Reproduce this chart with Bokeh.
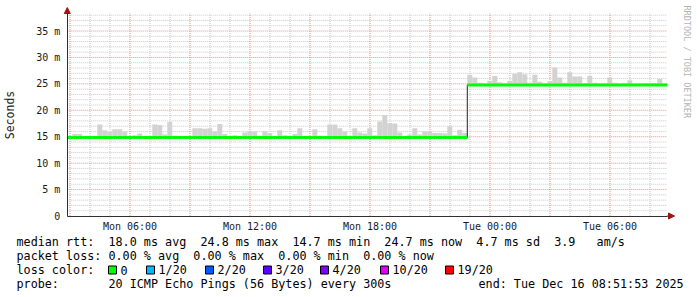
import math
from bokeh.plotting import figure
from bokeh.models import FixedTicker, Range1d, Arrow, NormalHead, ColumnDataSource
from bokeh.core.properties import value
from bokeh.embed import file_html
from bokeh.resources import INLINE

# ---------------- data ----------------
# time axis in hours since Mon 00:00
start_h = 2 + 51 / 60 + 53 / 3600      # Mon 02:51:53
span_h = 30.0                          # ends Tue 08:51:53
bin_h = 0.25                           # 15-minute bins

# smoke top (upper edge of ping spread), ms
smoke_top = [
    15.2, 15.5, 15.5, 15.0, 15.0, 15.1, 17.3, 16.2, 15.9, 16.4,
    16.4, 16.0, 15.0, 15.3, 15.6, 15.0, 15.1, 17.3, 17.2, 15.4,
    17.8, 15.2, 15.0, 15.0, 15.1, 16.6, 16.6, 16.5, 16.6, 16.0,
    17.4, 15.5, 15.0, 15.3, 15.1, 15.8, 16.0, 16.0, 15.2, 16.0,
    15.7, 15.1, 16.2, 15.3, 15.0, 15.5, 16.6, 15.1, 15.0, 16.4,
    15.2, 15.0, 17.3, 17.3, 16.6, 16.0, 15.2, 16.6, 15.8, 15.6,
    16.6, 15.3, 17.9, 19.1, 17.6, 17.5, 15.8, 15.1, 15.4, 16.6,
    15.4, 16.0, 16.0, 15.7, 15.7, 15.6, 17.0, 15.3, 16.3, 15.7,
    26.7, 26.2, 25.2, 25.0, 25.6, 26.5, 25.3, 25.1, 25.6, 26.9,
    27.2, 26.8, 25.2, 26.7, 25.4, 25.1, 25.5, 28.1, 26.2, 25.2,
    27.2, 26.4, 26.4, 25.1, 26.5, 25.2, 25.0, 25.1, 26.2, 25.2,
    25.0, 25.1, 25.7, 25.0, 25.0, 25.1, 25.0, 25.1, 25.9, 25.1,
]

# median rtt, ms
median_rtt = [14.85] * 80 + [24.8] * 40

x_tick_hours = [6, 12, 18, 24, 30]
x_tick_labels = ["Mon 06:00", "Mon 12:00", "Mon 18:00", "Tue 00:00", "Tue 06:00"]
y_tick_vals = [0, 5, 10, 15, 20, 25, 30, 35]
y_tick_labels = ["0", "5 m", "10 m", "15 m", "20 m", "25 m", "30 m", "35 m"]
x_major_grid = [3, 6, 9, 12, 15, 18, 21, 24, 27, 30]
x_minor_grid = [4, 5, 7, 8, 10, 11, 13, 14, 16, 17, 19, 20, 22, 23, 25, 26, 28, 29, 31, 32]
y_major_grid = [5, 10, 15, 20, 25, 30, 35]
y_minor_grid = [1, 2, 3, 4, 6, 7, 8, 9, 11, 12, 13, 14, 16, 17, 18, 19, 21, 22, 23, 24,
                26, 27, 28, 29, 31, 32, 33, 34, 36, 37, 38]

loss_labels = ["0", "1/20", "2/20", "3/20", "4/20", "10/20", "19/20"]
loss_colors = ["#00ff00", "#00b8ff", "#0059ff", "#5e00ff", "#7e00ff", "#dd00ff", "#ff0000"]

stat_rows = [
    "median rtt:  18.0 ms avg  24.8 ms max  14.7 ms min  24.7 ms now  4.7 ms sd  3.9   am/s",
    "packet loss: 0.00 % avg  0.00 % max  0.00 % min  0.00 % now",
    "loss color:",
    "probe:       20 ICMP Echo Pings (56 Bytes) every 300s",
]
end_text = "end: Tue Dec 16 08:51:53 2025"
watermark = "RRDTOOL / TOBI OETIKER"

# ---------------- layout helpers ----------------
W, H = 697, 297
L, B = 67.0, 215.5           # pixel position of (start, 0)
PXH = 20.0                   # pixels per hour
PXM = 185.0 / 35.0           # pixels per ms
x0 = start_h
x1 = start_h + span_h
# nudge so that whole hours fall on pixel centres (crisp dotted grid)
L = L + (0.5 - ((L + (3 - x0) * PXH) % 1.0))

def px_x(X):
    return x0 + (X - L) / PXH

def px_y(Y):
    return (B - Y) / PXM

def keep_spaces(s):
    return s.replace(" ", "\u00a0")

ytop = px_y(13)
MONO = "DejaVu Sans Mono"

p = figure(width=W, height=H, output_backend="svg", toolbar_location=None,
           x_range=Range1d(px_x(0), px_x(W)), y_range=Range1d(px_y(H), px_y(0)),
           min_border=0)
p.background_fill_color = "white"
p.border_fill_color = "white"
p.outline_line_color = None
p.grid.visible = False

# grid (drawn from the tick lists, limited to the graph area)
minor_c, major_c = "#c8c8c8", "#f08a8a"
gx = [h for h in x_minor_grid if x0 <= h <= x1]
p.segment(x0=gx, x1=gx, y0=[0] * len(gx), y1=[ytop] * len(gx),
          line_color=minor_c, line_dash="1 1", line_width=1)
gy = y_minor_grid
p.segment(x0=[x0] * len(gy), x1=[x1] * len(gy), y0=gy, y1=gy,
          line_color=minor_c, line_dash="1 1", line_width=1)
gx = [h for h in x_major_grid if x0 <= h <= x1]
p.segment(x0=gx, x1=gx, y0=[0] * len(gx), y1=[ytop] * len(gx),
          line_color=major_c, line_dash="1 1", line_width=1)
gy = y_major_grid
p.segment(x0=[x0] * len(gy), x1=[x1] * len(gy), y0=gy, y1=gy,
          line_color=major_c, line_dash="1 1", line_width=1)

# axes (drawn at fixed locations inside the canvas)
p.xaxis.ticker = FixedTicker(ticks=x_tick_hours)
p.xaxis.major_label_overrides = dict(zip(x_tick_hours, x_tick_labels))
p.xaxis.bounds = (x0, x1)
p.xaxis.fixed_location = 0
p.yaxis.ticker = FixedTicker(ticks=y_tick_vals)
p.yaxis.major_label_overrides = dict(zip(y_tick_vals, y_tick_labels))
p.yaxis.bounds = (0, ytop)
p.yaxis.fixed_location = x0
for ax in (p.xaxis[0], p.yaxis[0]):
    ax.axis_line_color = "#303030"
    ax.axis_line_width = 1
    ax.major_tick_out = 0
    ax.major_tick_in = 0
    ax.minor_tick_out = 0
    ax.minor_tick_in = 0
    ax.major_label_text_font = MONO
    ax.major_label_text_font_size = "10px"
    ax.major_label_text_color = "#1a1a1a"
p.xaxis.major_label_standoff = 5
p.yaxis.major_label_standoff = 7
p.yaxis.axis_label = "Seconds"
p.yaxis.axis_label_text_font = MONO
p.yaxis.axis_label_text_font_size = "11.5px"
p.yaxis.axis_label_text_font_style = "normal"
p.yaxis.axis_label_text_color = "#1a1a1a"
p.yaxis.axis_label_standoff = 16

# smoke + median
n = len(median_rtt)
lefts = [start_h + i * bin_h for i in range(n)]
rights = [t + bin_h for t in lefts]
src = ColumnDataSource(dict(left=lefts, right=rights, bottom=median_rtt,
                            top=smoke_top, med=median_rtt))
p.quad(left="left", right="right", bottom="bottom", top="top", source=src,
       fill_color="#d2d2d2", line_color=None)
p.step(x=lefts + [x1], y=median_rtt + [median_rtt[-1]], mode="after",
       line_color="#202020", line_width=1)
p.segment(x0="left", x1="right", y0="med", y1="med", source=src,
          line_color=loss_colors[0], line_width=3)

# axis arrows
ac = "#a01414"
p.add_layout(Arrow(end=NormalHead(size=6, fill_color=ac, line_color=ac),
                   x_start=x1, y_start=0, x_end=px_x(674), y_end=0,
                   line_color="#303030", line_width=1))
p.add_layout(Arrow(end=NormalHead(size=6, fill_color=ac, line_color=ac),
                   x_start=x0, y_start=ytop, x_end=x0, y_end=px_y(7),
                   line_color="#303030", line_width=1))

# watermark
p.text(x=[px_x(686)], y=[px_y(5)], text=[keep_spaces(watermark)], angle=-math.pi / 2,
       text_align="left", text_baseline="middle",
       text_font=value(MONO), text_font_size=value("8.5px"), text_color="#b4b4b4")

# ---------------- legend block ----------------
row_Y = [241, 255.3, 269.5, 283.7]
p.text(x=[px_x(16)] * 4 + [px_x(478)],
       y=[px_y(Y) for Y in row_Y] + [px_y(row_Y[3])],
       text=[keep_spaces(s) for s in stat_rows + [end_text]],
       text_align="left", text_baseline="middle",
       text_font=value(MONO), text_font_size=value("11.75px"), text_color="black")

loss_text_X = [120, 158, 217, 275, 332, 392, 457]
p.quad(left=[px_x(X - 12) for X in loss_text_X], right=[px_x(X - 4) for X in loss_text_X],
       top=[px_y(row_Y[2] - 4)] * 7, bottom=[px_y(row_Y[2] + 4)] * 7,
       fill_color=loss_colors, line_color="black", line_width=1)
p.text(x=[px_x(X) for X in loss_text_X], y=[px_y(row_Y[2])] * 7, text=loss_labels,
       text_align="left", text_baseline="middle",
       text_font=value(MONO), text_font_size=value("11.75px"), text_color="black")

open("out.html", "w").write(file_html(p, INLINE))
